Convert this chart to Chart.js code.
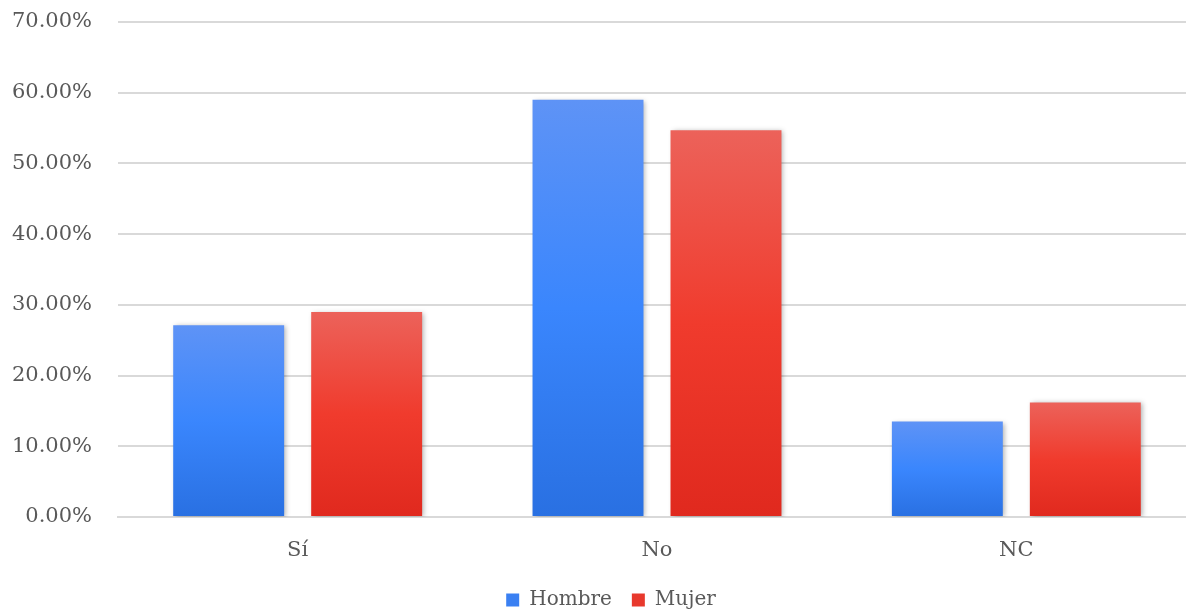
<!DOCTYPE html>
<html>
<head>
<meta charset="utf-8">
<script src="https://cdn.jsdelivr.net/npm/chart.js@4/dist/chart.umd.min.js"></script>
<style>
	html, body { margin: 0; padding: 0; background: #fff; overflow: hidden; }
	#caixa { width: 1200px; height: 610px; position: relative; }
</style>
</head>
<body>
<div id="caixa"><canvas id="grafico"></canvas></div>
<script>
const categorias = ['Sí', 'No', 'NC'];
const valoresHombre = [27.1, 59.0, 13.5];
const valoresMujer = [29.0, 54.7, 16.2];
const ticksY = { min: 0, max: 70, step: 10 };

const fonteTexto = '"DejaVu Serif", "Liberation Serif", serif';
const corTexto = '#595959';
const corGrade = '#d9d9d9';

// degradê vertical por barra (claro em cima, escuro embaixo)
function montaDegrade(paradas) {
	return (context) => {
		const chart = context.chart;
		if (!chart.chartArea || context.type !== 'data') return paradas[1];
		const escalaY = chart.scales.y;
		const topo = escalaY.getPixelForValue(context.parsed.y);
		const base = escalaY.getPixelForValue(0);
		if (!isFinite(topo) || topo === base) return paradas[1];
		const g = chart.ctx.createLinearGradient(0, topo, 0, base);
		g.addColorStop(0, paradas[0]);
		g.addColorStop(0.5, paradas[1]);
		g.addColorStop(1, paradas[2]);
		return g;
	};
}

// sombra leve atrás das barras
const sombraBarras = {
	id: 'sombraBarras',
	beforeDatasetsDraw(chart) {
		const ctx = chart.ctx;
		ctx.save();
		ctx.shadowColor = 'rgba(0, 0, 0, 0.3)';
		ctx.shadowBlur = 5;
		ctx.shadowOffsetX = 2;
		ctx.shadowOffsetY = 1;
	},
	afterDatasetsDraw(chart) {
		chart.ctx.restore();
	}
};

// empurra a legenda um pouco para a direita
const deslocaLegenda = {
	id: 'deslocaLegenda',
	afterLayout(chart) {
		if (!chart.legend) return;
		chart.legend.left += 13;
		chart.legend.right += 13;
	}
};

function montaChart() {
	const ctx = document.getElementById('grafico').getContext('2d');
	return new Chart(ctx, {
		type: 'bar',
		data: {
			labels: categorias,
			datasets: [
				{
					label: 'Hombre',
					data: valoresHombre,
					backgroundColor: montaDegrade(['#5e93f6', '#3a86fd', '#2970e2']),
					borderWidth: 0,
					categoryPercentage: 0.768,
					barPercentage: 0.804
				},
				{
					label: 'Mujer',
					data: valoresMujer,
					backgroundColor: montaDegrade(['#ec625a', '#f03b2d', '#e0291e']),
					borderWidth: 0,
					categoryPercentage: 0.768,
					barPercentage: 0.804
				}
			]
		},
		options: {
			responsive: true,
			maintainAspectRatio: false,
			animation: false,
			layout: { padding: { top: 22, right: 4, left: 0, bottom: -10 } },
			scales: {
				x: {
					grid: { display: false, drawTicks: false },
					border: { display: true, color: corGrade, width: 2 },
					ticks: {
						color: corTexto,
						padding: 21,
						font: { family: fonteTexto, size: 21 }
					},
					afterFit: (escala) => { escala.height = 53; }
				},
				y: {
					min: ticksY.min,
					max: ticksY.max,
					grid: { color: corGrade, lineWidth: 2, drawTicks: false },
					border: { display: false },
					ticks: {
						stepSize: ticksY.step,
						color: corTexto,
						padding: 26,
						font: { family: fonteTexto, size: 21 },
						callback: (v) => v.toFixed(2) + '%'
					},
					// largura fixa e sem folga vertical extra (o padding dos ticks entra nela)
					afterFit: (escala) => {
						escala.width = 118;
						escala.paddingTop = 0;
						escala.paddingBottom = 0;
					}
				}
			},
			plugins: {
				legend: {
					display: true,
					position: 'bottom',
					labels: {
						color: corTexto,
						font: { family: fonteTexto, size: 20 },
						boxWidth: 13,
						boxHeight: 13,
						padding: 20,
						generateLabels: (chart) => chart.data.datasets.map((ds, i) => ({
							text: ds.label,
							fillStyle: i === 0 ? '#3a80f2' : '#e8392d',
							strokeStyle: 'transparent',
							lineWidth: 0,
							datasetIndex: i,
							fontColor: corTexto
						}))
					}
				},
				tooltip: { enabled: false }
			}
		},
		plugins: [sombraBarras, deslocaLegenda]
	});
}

window.onload = () => {
	montaChart();
};
</script>
</body>
</html>
